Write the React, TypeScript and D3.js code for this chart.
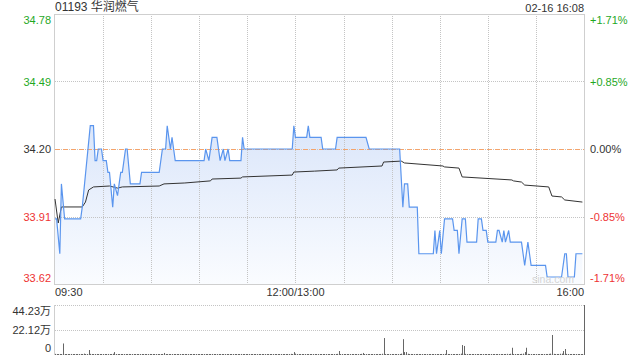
import React from "react";
import * as d3 from "d3";

const title = "01193 华润燃气";
const stamp = "02-16 16:08";
const basePrice = 34.2;
const priceTicks = [34.78, 34.49, 34.2, 33.91, 33.62];
const pctTicks = ["+1.71%", "+0.85%", "0.00%", "-0.85%", "-1.71%"];
const volTicks = [44.23, 22.12, 0];
const volTickLabels = ["44.23万", "22.12万", "0"];
const timeTicks = [0, 150, 330];
const timeLabels = ["09:30", "12:00/13:00", "16:00"];
const gridMinutes = [30, 60, 90, 120, 150, 180, 210, 240, 270, 300];

const priceT = [0, 1, 3, 4, 6, 16, 17, 22, 24, 25, 26, 27, 29, 30, 32, 33, 34, 36, 37, 39, 40, 41, 42, 44, 45, 47, 53, 54, 65, 67, 69, 70, 72, 73, 74, 75, 93, 94, 96, 98, 101, 103, 105, 106, 108, 109, 116, 117, 118, 148, 149, 150, 157, 158, 159, 166, 167, 175, 176, 194, 196, 215, 217, 218, 220, 221, 226, 227, 236, 237, 238, 240, 241, 243, 248, 249, 251, 252, 254, 256, 257, 263, 264, 266, 267, 269, 270, 275, 276, 277, 279, 280, 281, 283, 284, 291, 293, 295, 297, 306, 307, 316, 318, 319, 320, 324, 325, 329];
const priceV = [33.9, 33.9, 33.75, 34.05, 33.9, 33.9, 33.95, 34.3, 34.3, 34.15, 34.15, 34.2, 34.2, 34.15, 34.15, 34.1, 34.1, 33.95, 34.05, 34.0, 34.05, 34.1, 34.1, 34.2, 34.2, 34.05, 34.05, 34.1, 34.1, 34.2, 34.2, 34.3, 34.2, 34.25, 34.2, 34.15, 34.15, 34.2, 34.15, 34.25, 34.25, 34.15, 34.2, 34.15, 34.2, 34.15, 34.15, 34.25, 34.2, 34.2, 34.3, 34.25, 34.25, 34.3, 34.25, 34.25, 34.2, 34.2, 34.25, 34.25, 34.2, 34.2, 33.95, 34.05, 34.05, 33.95, 33.95, 33.75, 33.75, 33.85, 33.75, 33.85, 33.75, 33.9, 33.9, 33.85, 33.85, 33.75, 33.9, 33.9, 33.8, 33.8, 33.9, 33.9, 33.85, 33.85, 33.8, 33.8, 33.85, 33.85, 33.8, 33.85, 33.8, 33.85, 33.8, 33.8, 33.7, 33.8, 33.7, 33.7, 33.65, 33.65, 33.75, 33.75, 33.65, 33.65, 33.75, 33.75];

const avgT = [0, 2, 4, 17, 19, 21, 24, 34, 39, 42, 65, 68, 81, 97, 98, 116, 117, 148, 149, 162, 176, 177, 204, 205, 216, 218, 242, 243, 252, 254, 285, 286, 291, 293, 308, 310, 316, 318, 329];
const avgV = [33.985, 33.882, 33.951, 33.951, 33.972, 34.024, 34.037, 34.041, 34.032, 34.037, 34.041, 34.05, 34.054, 34.063, 34.071, 34.075, 34.08, 34.088, 34.101, 34.105, 34.11, 34.118, 34.127, 34.144, 34.148, 34.14, 34.127, 34.123, 34.118, 34.08, 34.067, 34.063, 34.058, 34.045, 34.037, 33.998, 33.994, 33.981, 33.972];

// volume per minute, in 万
const volumes = [
  1.0, 0.8, 0.6, 0.9, 0.7, 10.2, 0.8, 0.6, 0.5, 0.7, 0.9, 0.6, 0.8, 0.5, 0.7, 0.6, 0.9, 0.8, 1.2, 0.7, 0.6, 4.4, 1.0, 0.8, 0.6, 0.7, 0.9, 0.5, 0.6, 0.8,
  0.7, 0.6, 0.8, 0.9, 0.5, 0.7, 1.1, 2.6, 0.8, 0.6, 0.7, 0.5, 0.6, 0.8, 0.7, 0.5, 0.9, 0.6, 0.7, 0.8, 0.5, 0.6, 0.7, 0.5, 0.8, 0.6, 0.7, 0.5, 0.6, 0.9,
  0.6, 0.5, 0.7, 0.8, 0.6, 0.5, 0.7, 0.9, 1.8, 0.6, 0.5, 0.7, 0.6, 0.8, 0.5, 0.6, 0.7, 0.5, 0.6, 0.8, 0.5, 0.7, 0.6, 0.5, 0.8, 0.6, 0.5, 0.7, 0.6, 0.5,
  0.7, 0.6, 0.5, 0.8, 0.6, 0.7, 0.5, 0.6, 0.9, 0.5, 0.6, 0.7, 0.5, 0.6, 0.8, 0.5, 0.7, 0.6, 0.5, 0.6, 0.8, 0.5, 0.6, 0.7, 0.5, 0.6, 0.9, 0.7, 0.5, 0.6,
  0.5, 0.7, 0.6, 0.5, 0.8, 0.6, 0.5, 0.7, 0.6, 0.5, 0.6, 0.8, 0.5, 0.7, 0.6, 0.5, 0.6, 0.7, 0.5, 0.8, 0.6, 0.5, 0.7, 0.6, 0.5, 0.6, 0.8, 1.0, 0.7, 2.6,
  1.2, 0.8, 0.6, 0.7, 0.5, 0.6, 0.8, 0.5, 0.7, 0.6, 0.5, 0.6, 0.7, 0.5, 0.8, 0.6, 0.5, 0.7, 0.6, 0.5, 0.6, 0.8, 0.5, 0.7, 0.6, 0.9, 1.0, 3.5, 0.8, 0.6,
  0.7, 0.5, 0.6, 0.8, 0.5, 0.6, 0.7, 0.5, 0.6, 0.8, 0.7, 1.0, 1.8, 0.8, 0.6, 0.7, 0.5, 0.6, 0.8, 0.7, 0.6, 0.5, 0.7, 0.9, 1.1, 15.0, 0.9, 0.7, 0.6, 0.8,
  0.6, 0.7, 0.5, 0.8, 0.6, 0.9, 1.2, 14.0, 2.6, 2.6, 1.1, 0.8, 0.9, 0.7, 0.6, 0.8, 0.9, 0.7, 0.6, 0.5, 0.7, 0.8, 0.6, 0.5, 0.7, 0.6, 0.8, 0.7, 0.6, 0.5,
  0.7, 0.6, 0.8, 1.0, 4.4, 0.9, 0.7, 0.6, 0.5, 0.8, 0.6, 0.7, 0.9, 1.2, 8.8, 8.0, 1.0, 0.8, 0.6, 0.7, 0.5, 0.6, 0.8, 0.7, 0.5, 0.6, 0.7, 0.8, 0.6, 0.5,
  0.7, 0.6, 0.5, 0.8, 0.6, 0.7, 0.5, 0.6, 0.8, 0.7, 0.6, 0.9, 1.0, 0.8, 1.1, 6.4, 0.9, 0.7, 0.6, 0.8, 0.7, 1.0, 1.2, 2.6, 6.4, 1.0, 0.8, 0.7, 0.6, 0.8,
  0.6, 0.7, 0.5, 0.8, 0.6, 0.7, 0.9, 0.8, 1.0, 1.2, 17.7, 1.0, 0.8, 0.7, 0.9, 1.1, 1.2, 3.5, 5.3, 1.0, 0.8, 0.7, 0.6, 0.9, 0.7, 0.8, 0.6, 0.7, 0.8, 0.9,
  44.23,
];

const W = 640;
const H = 360;
const L = 55;
const R = 584;
const T = 14;
const B = 284;
const VT = 305;
const VB = 355;
const FONT = "'Liberation Sans', Arial, 'Noto Sans CJK SC', sans-serif";
const GREEN = "#1fa81f";
const RED = "#ee3333";
const DARK = "#333";

export default function App() {
  const x = d3.scaleLinear().domain([0, 330]).range([L, R]);
  const y = d3.scaleLinear().domain([33.62, 34.78]).range([B, T]);
  const yv = d3.scaleLinear().domain([0, 44.23]).range([VB, VT]);

  const pricePts: [number, number][] = priceT.map((t, i) => [t, priceV[i]]);
  const avgPts: [number, number][] = avgT.map((t, i) => [t, avgV[i]]);

  const line = d3
    .line<[number, number]>()
    .x((d) => x(d[0]))
    .y((d) => y(d[1]));
  const area = d3
    .area<[number, number]>()
    .x((d) => x(d[0]))
    .y0(B)
    .y1((d) => y(d[1]));

  const labelY = (i: number, n: number, yy: number) =>
    i === 0 ? yy + 10 : i === n - 1 ? yy - 2 : yy + 4;
  const colorFor = (p: number) =>
    Math.abs(p - basePrice) < 1e-6 ? DARK : p > basePrice ? GREEN : RED;

  return (
    <svg
      width={W}
      height={H}
      style={{ position: "absolute", left: 0, top: 0, background: "#fff" }}
      fontFamily={FONT}
    >
      <defs>
        <linearGradient id="fillGrad" gradientUnits="userSpaceOnUse" x1="0" y1={y(34.3)} x2="0" y2={B}>
          <stop offset="0" stopColor="#dbe6fa" />
          <stop offset="1" stopColor="#fafcff" />
        </linearGradient>
      </defs>

      <text x={L} y={11} fontSize={12} fill={DARK}>
        {title}
      </text>
      <text x={R} y={12} fontSize={11} fill={DARK} textAnchor="end">
        {stamp}
      </text>

      {/* price area */}
      <path d={area(pricePts) || ""} fill="url(#fillGrad)" />

      {/* vertical grid */}
      {gridMinutes.map((m) => (
        <line
          key={m}
          x1={Math.round(x(m)) + 0.5}
          x2={Math.round(x(m)) + 0.5}
          y1={T}
          y2={B}
          stroke="#c4c4c4"
          strokeDasharray="1,1"
        />
      ))}
      {/* horizontal grid */}
      {priceTicks.slice(1, -1).map((p) => (
        <line
          key={p}
          x1={L}
          x2={R}
          y1={Math.round(y(p)) + 0.5}
          y2={Math.round(y(p)) + 0.5}
          stroke="#c4c4c4"
          strokeDasharray="1,1"
        />
      ))}
      <line
        x1={L}
        x2={R}
        y1={Math.round(y(basePrice)) + 0.5}
        y2={Math.round(y(basePrice)) + 0.5}
        stroke="#f4a46c"
        strokeDasharray="5,3"
      />

      <rect x={L - 0.5} y={T + 0.5} width={R - L + 1} height={B - T} fill="none" stroke="#cfcfcf" />

      <path d={line(avgPts) || ""} fill="none" stroke="#333" strokeWidth={1} />
      <path d={line(pricePts) || ""} fill="none" stroke="#5a95ee" strokeWidth={1.2} />

      <text x={532} y={283} fontSize={10.5} fill="#d4d4d4">
        sina.com
      </text>

      {/* price labels */}
      {priceTicks.map((p, i) => (
        <text
          key={"l" + p}
          x={51}
          y={labelY(i, priceTicks.length, y(p))}
          fontSize={11}
          textAnchor="end"
          fill={colorFor(p)}
        >
          {p.toFixed(2)}
        </text>
      ))}
      {pctTicks.map((s, i) => (
        <text
          key={"r" + s}
          x={590}
          y={labelY(i, pctTicks.length, y(priceTicks[i]))}
          fontSize={11}
          fill={colorFor(priceTicks[i])}
        >
          {s}
        </text>
      ))}

      {/* time labels */}
      {timeTicks.map((m, i) => (
        <text
          key={"t" + m}
          x={x(m)}
          y={296}
          fontSize={11}
          fill={DARK}
          textAnchor={i === 0 ? "start" : i === timeTicks.length - 1 ? "end" : "middle"}
        >
          {timeLabels[i]}
        </text>
      ))}

      {/* volume panel */}
      {volTicks.slice(0, 2).map((v) => (
        <line
          key={"vg" + v}
          x1={L}
          x2={R}
          y1={Math.round(yv(v)) + 0.5}
          y2={Math.round(yv(v)) + 0.5}
          stroke="#c4c4c4"
          strokeDasharray="1,1"
        />
      ))}
      <line x1={L - 0.5} x2={L - 0.5} y1={VT} y2={VB} stroke="#cfcfcf" />
      <line x1={L} x2={R + 1} y1={VB - 0.5} y2={VB - 0.5} stroke="#e2e2e2" />
      {volumes.map((v, i) => (
        <line
          key={"v" + i}
          x1={Math.round(x(i)) + 0.5}
          x2={Math.round(x(i)) + 0.5}
          y1={VB}
          y2={Math.min(yv(v), VB - 1)}
          stroke="#666"
          strokeWidth={1}
        />
      ))}
      {volTickLabels.map((s, i) => (
        <text
          key={"vl" + s}
          x={51}
          y={[315, 334, 352][i]}
          fontSize={11}
          textAnchor="end"
          fill={DARK}
        >
          {s}
        </text>
      ))}
    </svg>
  );
}
